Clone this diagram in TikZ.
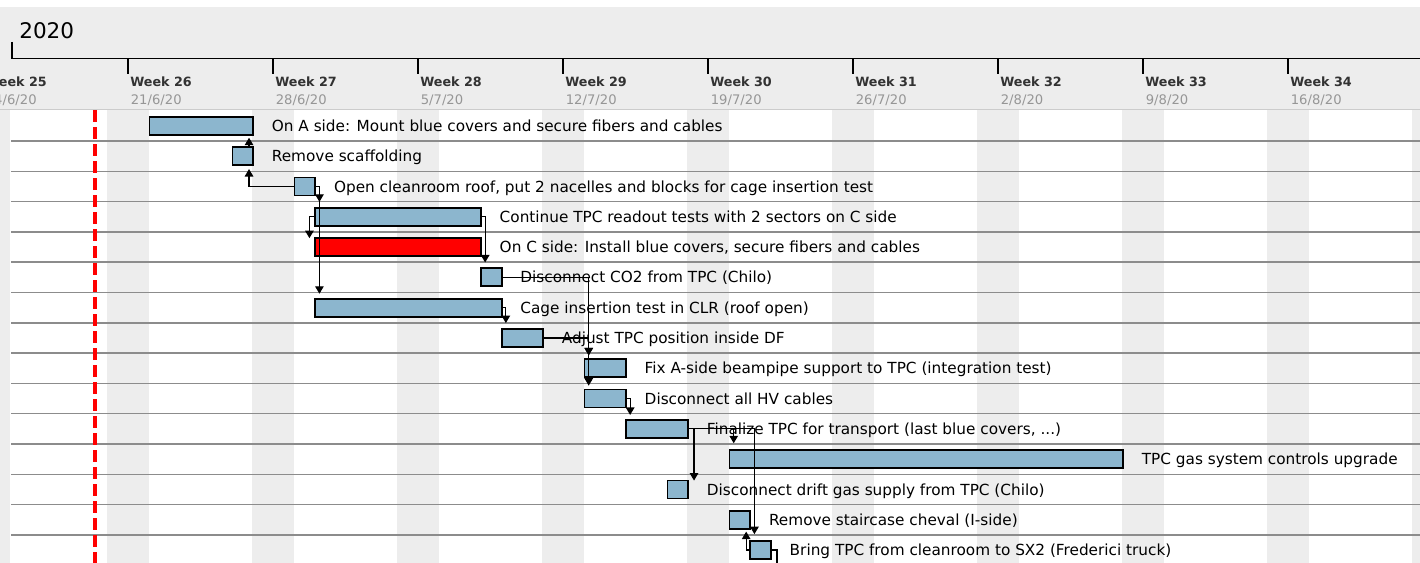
\documentclass[tikz,border=0pt]{standalone}
\usepackage{fontspec}
\setmainfont{DejaVu Sans}
\usetikzlibrary{calc,arrows.meta}

\definecolor{barblue}{RGB}{140,182,206}
\definecolor{hdrgrey}{RGB}{237,237,237}
\definecolor{rowline}{RGB}{140,140,140}
\definecolor{dategrey}{RGB}{150,150,150}
\definecolor{weekgrey}{RGB}{50,50,50}

\tikzset{
  bar/.style={draw, line width=0.035cm, inner sep=0pt, minimum height=0.36cm, anchor=west},
  tasklabel/.style={anchor=base west, inner sep=0pt, font=\fontsize{8.7}{10}\selectfont},
  dep/.style={line width=0.025cm, -{Triangle[length=0.15cm,width=0.17cm]}}
}

% name, row, first day, end day, colour, text
\newcommand{\ganttask}[6]{%
  \node[bar, fill=#5, minimum width={(#4-#3)*20.714*0.02cm}] (#1) at ({128+20.714*#3},{110.7+30.3*(#2-0.5)}) {};
  \node[tasklabel] (#1t) at ($(#1.east)+(17.5,5.6)$) {#6};
}

\begin{document}
\begin{tikzpicture}[x=0.02cm,y=-0.02cm]
\useasboundingbox (0,0) rectangle (1420,563);
\clip (0,0) rectangle (1420,563);
\fill[white] (0,0) rectangle (1420,563);

% header
\fill[hdrgrey] (0,7) rectangle (1420,110);
\draw[line width=0.025cm] (12,42) -- (12,58.5) -- (1420,58.5);
\draw[black!20, line width=0.03cm] (0,109.5) -- (1420,109.5);
\node[anchor=base west, inner sep=0pt, font=\fontsize{12.25}{14}\selectfont] (year) at (19,38.3) {2020};
\foreach \k/\dt in {25/{14/6/20},26/{21/6/20},27/{28/6/20},28/{5/7/20},29/{12/7/20},30/{19/7/20},31/{26/7/20},32/{2/8/20},33/{9/8/20},34/{16/8/20}} {
  \draw[line width=0.025cm] ({128+145*(\k-26)},58.5) -- ({128+145*(\k-26)},74);
  \node[anchor=base west, inner sep=0pt, text=weekgrey, font=\bfseries\fontsize{7.25}{9}\selectfont] at ({130+145*(\k-26)},87) {Week \k};
  \node[anchor=base west, inner sep=0pt, text=dategrey, font=\fontsize{7.5}{9}\selectfont] at ({130.5+145*(\k-26)},104.5) {\dt};
}

% weekends and rows
\foreach \w in {-1,...,9}
  \fill[hdrgrey] ({128+20.714*(7*\w-1)},110.5) rectangle ({128+20.714*(7*\w+1)},563);
\fill[hdrgrey] (0,110.5) rectangle (10,563);
\foreach \r in {1,...,14}
  \draw[rowline, line width=0.03cm] (11,{110.7+30.3*\r}) -- (1420,{110.7+30.3*\r});
\draw[red, line width=0.08cm, dash pattern=on 0.24cm off 0.1cm] (95,110.5) -- (95,563);

\ganttask{b1}{1}{1}{6}{barblue}{On A side: Mount blue covers and secure fibers and cables}
\ganttask{b2}{2}{5}{6}{barblue}{Remove scaffolding}
\ganttask{b3}{3}{8}{9}{barblue}{Open cleanroom roof, put 2 nacelles and blocks for cage insertion test}
\ganttask{b4}{4}{9}{17}{barblue}{Continue TPC readout tests with 2 sectors on C side}
\ganttask{b5}{5}{9}{17}{red}{On C side: Install blue covers, secure fibers and cables}
\ganttask{b6}{6}{17}{18}{barblue}{Disconnect CO2 from TPC (Chilo)}
\ganttask{b7}{7}{9}{18}{barblue}{Cage insertion test in CLR (roof open)}
\ganttask{b8}{8}{18}{20}{barblue}{Adjust TPC position inside DF}
\ganttask{b9}{9}{22}{24}{barblue}{Fix A-side beampipe support to TPC (integration test)}
\ganttask{b10}{10}{22}{24}{barblue}{Disconnect all HV cables}
\ganttask{b11}{11}{24}{27}{barblue}{Finalize TPC for transport (last blue covers, ...)}
\ganttask{b12}{12}{29}{48}{barblue}{TPC gas system controls upgrade}
\ganttask{b13}{13}{26}{27}{barblue}{Disconnect drift gas supply from TPC (Chilo)}
\ganttask{b14}{14}{29}{30}{barblue}{Remove staircase cheval (I-side)}
\ganttask{b15}{15}{30}{31}{barblue}{Bring TPC from cleanroom to SX2 (Frederici truck)}

% dependencies
\draw[dep] ($(b2.north east)+(-5,0)$) -- ($(b1.south east)+(-5,2)$);
\draw[dep] (b3.west) -| ($(b2.south east)+(-5,3)$);
\draw[dep] (b3.east) -| ($(b4.north west)+(5,-5)$);
\draw[dep] (b3.east) -| ($(b7.north west)+(5,-4)$);
\draw[dep] (b4.west) -| ($(b5.north west)+(-5,1)$);
\draw[dep] (b4.east) -| ($(b6.north west)+(5,-5)$);
\draw[dep] (b6.east) -| ($(b9.north west)+(5,-3)$);
\draw[dep] (b6.east) -| ($(b10.north west)+(5,-3)$);
\draw[dep] (b7.east) -| ($(b8.north west)+(5,-5)$);
\draw[dep] (b8.east) -| ($(b9.north west)+(5,-3)$);
\draw[dep] (b10.east) -| ($(b11.north west)+(5,-4)$);
\draw[dep] (b11.east) -| ($(b13.north east)+(5,1)$);
\draw[dep] (b11.east) -| ($(b12.north west)+(5,-6)$);
\draw[dep] (b11.east) -| ($(b15.north west)+(5,-6)$);
\draw[dep] (b15.west) -| ($(b14.south east)+(-5,2)$);
\coordinate (offpage) at ($(b15.east)+(5,30)$);
\draw[dep] (b15.east) -| (offpage);
\end{tikzpicture}
\end{document}
